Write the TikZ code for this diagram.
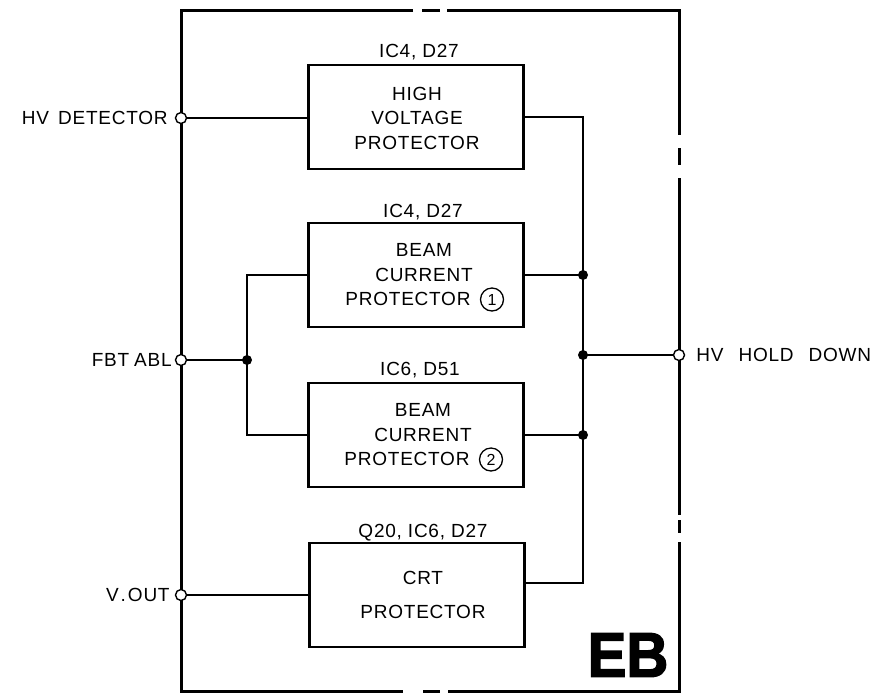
\documentclass[tikz,border=0pt]{standalone}
\usepackage{fontspec}
\setmainfont{Liberation Sans}[LetterSpace=4]
\newfontfamily\ebfont{Liberation Sans}[LetterSpace=0, BoldFeatures={FakeBold=2.5}]
\usetikzlibrary{calc,positioning}
\begin{document}
\begin{tikzpicture}[x=1pt,y=-1pt,
  lbl/.style={font=\fontsize{19}{24}\selectfont, inner sep=0pt},
  blk/.style={draw, line width=2.6pt, minimum width=215pt, minimum height=104pt, inner sep=0pt},
  txt/.style={align=center, font=\fontsize{19}{24.5}\selectfont, inner sep=0pt},
  wire/.style={line width=1.6pt},
  frame/.style={line width=3pt},
  term/.style={circle, draw, fill=white, line width=1.4pt, minimum size=11pt, inner sep=0pt},
  dot/.style={circle, fill, minimum size=10pt, inner sep=0pt},
  num/.style={circle, draw, line width=1.3pt, minimum size=23pt, inner sep=0pt, font=\fontsize{16}{16}\selectfont}
]
\useasboundingbox (0,0) rectangle (880,697);

% outer frame (broken border)
\draw[frame] (413,10) -- (181,10) -- (181,691) -- (403,691);
\draw[frame] (422,10) -- (440,10);
\draw[frame] (447,10) -- (679,10) -- (679,135);
\draw[frame] (679,148) -- (679,165);
\draw[frame] (679,178) -- (679,515);
\draw[frame] (679,520) -- (679,533);
\draw[frame] (679,542) -- (679,691) -- (448,691);
\draw[frame] (423,691) -- (440,691);

% blocks
\node[blk] (b1) at (416,117) {};
\node[blk] (b2) at (416,275) {};
\node[blk] (b3) at (416,435) {};
\node[blk] (b4) at (417,595) {};

\node[txt] (t1) at (417,118) {HIGH\\VOLTAGE\\PROTECTOR};
\node[txt] (t2) at (424,275) {BEAM\\CURRENT\\PROTECTOR\hspace{9pt}\rule{23pt}{0pt}};
\node[txt] (t3) at (423,435) {BEAM\\CURRENT\\PROTECTOR\hspace{9pt}\rule{23pt}{0pt}};
\node[txt] (t4) at (423,595) {CRT\\[9.5pt]PROTECTOR};

\node[num] (n1) at ($(t2.center)+(68,24.5)$) {1};
\node[num] (n2) at ($(t3.center)+(68,24.5)$) {2};

% part labels
\node[lbl, anchor=base] (l1) at (419,57) {IC4, D27};
\node[lbl, anchor=base] (l2) at (423,217) {IC4, D27};
\node[lbl, anchor=base] (l3) at (420,375) {IC6, D51};
\node[lbl, anchor=base] (l4) at (423,537) {Q20, IC6, D27};

% terminals
\node[term] (tHV) at (181,118) {};
\node[term] (tFBT) at (181,360) {};
\node[term] (tV) at (181,595) {};
\node[term] (tHOLD) at (679,355) {};

\node[lbl, left=7pt of tHV] (L1) {HV\hspace{9pt}DETECTOR};
\node[lbl, left=3pt of tFBT] (L2) {FBT\hspace{5pt}ABL};
\node[lbl, left=5pt of tV] (L3) {V\hspace{2pt}.\hspace{2pt}OUT};
\node[lbl, right=11pt of tHOLD] (L4) {HV\hspace{15pt}HOLD\hspace{15pt}DOWN};

% junctions
\node[dot] (j1) at (583,275) {};
\node[dot] (j2) at (583,355) {};
\node[dot] (j3) at (583,435) {};
\node[dot] (j4) at (247,360) {};
\coordinate (c2) at (583,583);

% wiring
\draw[wire] (tHV) -- (tHV -| b1.west);
\draw[wire] (b1.east) -| (j1.center) -- (j2.center) -- (j3.center) -- (c2) -- (c2 -| b4.east);
\draw[wire] (b2.east) -- (j1.center);
\draw[wire] (b3.east) -- (j3.center);
\draw[wire] (j2.center) -- (tHOLD);
\draw[wire] (tFBT) -- (j4.center);
\draw[wire] (j4.center) |- (b2.west);
\draw[wire] (j4.center) |- (b3.west);
\draw[wire] (tV) -- (tV -| b4.west);

% board name
\node[inner sep=0pt, xscale=0.92, font=\ebfont\bfseries\fontsize{63}{63}\selectfont] (eb) at (628,655) {EB};
\end{tikzpicture}
\end{document}
